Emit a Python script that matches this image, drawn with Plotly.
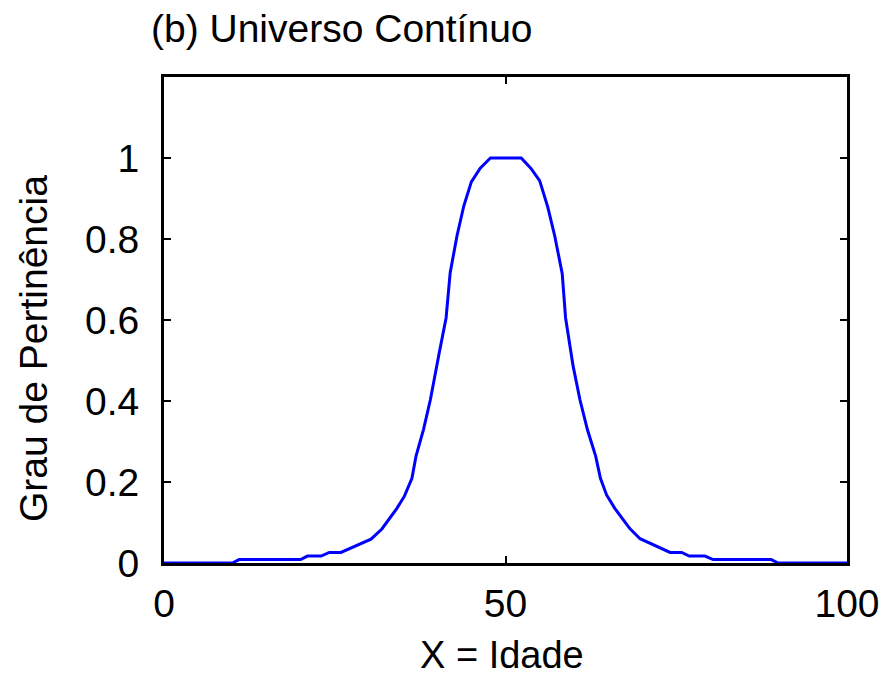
import plotly.graph_objects as go

# Data (membership degree vs age)
idade = [0, 10, 11, 20, 21, 23, 24.2, 25.9, 30.3, 31.9, 34.1, 35.2, 36.3, 36.9, 38.0, 39.0,
         40.3, 41.3, 41.9, 42.9, 43.9, 45.0, 46.3, 47.8,
         52.3, 53.7, 55.0, 56.2, 57.2, 58.3, 58.8, 59.9, 60.9, 62.0, 63.2, 63.9, 64.8,
         66.0, 68.2, 69.7, 74.1, 75.8, 76.9, 79.2, 80.4, 88.9, 89.9, 100]
pertinencia = [0, 0, 0.0085, 0.0085, 0.017, 0.017, 0.026, 0.026, 0.059, 0.084, 0.135, 0.165,
               0.209, 0.264, 0.330, 0.403, 0.519, 0.605, 0.717, 0.808, 0.882, 0.941, 0.975, 1.0,
               1.0, 0.975, 0.944, 0.878, 0.808, 0.715, 0.605, 0.486, 0.403, 0.329, 0.264, 0.209,
               0.168, 0.135, 0.085, 0.060, 0.026, 0.026, 0.017, 0.017, 0.0085, 0.0085, 0, 0]

x_ticks = [0, 50, 100]
y_ticks = [0, 0.2, 0.4, 0.6, 0.8, 1]
y_tick_text = ["0", "0.2", "0.4", "0.6", "0.8", "1"]

FONT = "Liberation Sans, Arial, Helvetica, sans-serif"
FS = 39
L, R, T, B = 164, 37, 77, 113
W, H = 884, 676
pw, ph = W - L - R, H - T - B

fig = go.Figure()
fig.add_trace(go.Scatter(x=idade, y=pertinencia, mode="lines",
                         line=dict(color="#0000FF", width=3), showlegend=False))

axis_common = dict(showgrid=False, zeroline=False, showline=True, linecolor="black",
                   linewidth=3, ticks="inside", ticklen=7, tickwidth=2, tickcolor="black",
                   mirror="allticks", tickfont=dict(family=FONT, size=FS, color="black"))

fig.update_xaxes(range=[0, 100], tickvals=x_ticks, ticktext=[str(v) for v in x_ticks],
                 ticklabelstandoff=4, **axis_common)
fig.update_yaxes(range=[0, 1.2], tickvals=y_ticks, ticktext=y_tick_text,
                 ticklabelstandoff=14, **axis_common)

fig.update_layout(
    width=W, height=H,
    margin=dict(l=L, r=R, t=T, b=B, autoexpand=False),
    paper_bgcolor="white", plot_bgcolor="white",
    title=dict(text="(b) Universo Contínuo", font=dict(family=FONT, size=FS, color="black"),
               x=151 / W, xanchor="left", xref="container",
               y=1 - 28 / H, yanchor="middle", yref="container"),
    annotations=[
        dict(text="Grau de Pertinência", textangle=-90, showarrow=False,
             xref="paper", yref="paper", x=(33 - L) / pw, y=(T + ph - 349) / ph,
             xanchor="center", yanchor="middle",
             font=dict(family=FONT, size=FS, color="black")),
        dict(text="X = Idade", showarrow=False,
             xref="paper", yref="paper", x=(502 - L) / pw, y=(T + ph - 655) / ph,
             xanchor="center", yanchor="middle",
             font=dict(family=FONT, size=38, color="black")),
    ],
)

fig.write_html("out.html")
